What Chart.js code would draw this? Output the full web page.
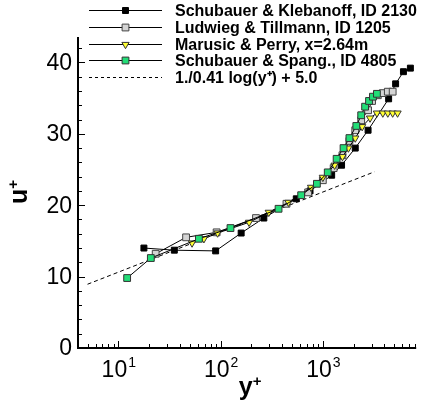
<!DOCTYPE html>
<html>
<head>
<meta charset="UTF-8">
<title>u+ vs y+</title>
<script src="https://cdn.jsdelivr.net/npm/chart.js"></script>
<style>
  html, body { margin: 0; padding: 0; background: #fff; }
</style>
</head>
<body>
<canvas id="chart" width="422" height="408"></canvas>
<script>
// Schubauer & Klebanoff, ID 2130
const skY = [17.8, 35.3, 89.5, 159, 265, 550, 750, 1220, 1525, 2075, 2770, 4400, 5150, 6140, 7180];
const skU = [14.0, 13.7, 13.6, 16.1, 18.2, 20.9, 22.0, 24.2, 25.6, 28.0, 30.5, 34.9, 37.0, 38.7, 39.2];
// Ludwieg & Tillmann, ID 1205
const ltY = [23.2, 46.0, 91.5, 222, 441, 718, 1000, 1276, 1555, 1820, 2075, 2372, 2770, 3030, 3450, 3860, 4320, 4820];
const ltU = [13.2, 15.5, 16.2, 18.2, 20.2, 21.8, 23.5, 25.2, 27.0, 29.0, 30.5, 31.9, 33.3, 34.6, 35.4, 35.7, 35.9, 35.9];
// Marusic & Perry, x=2.64m
const mpY = [52.6, 68.7, 93.5, 190, 296, 461, 767, 1000, 1304, 1555, 1778, 2075, 2425, 2895, 3380, 3860, 4320, 4820, 5380];
const mpU = [14.7, 15.3, 16.1, 17.6, 19.0, 20.4, 22.5, 23.9, 25.6, 26.8, 28.0, 29.4, 31.0, 32.2, 32.9, 32.9, 32.9, 32.9, 32.9];
// Schubauer & Spang., ID 4805
const ssY = [12.2, 20.8, 61.4, 125, 369, 614, 875, 1117, 1364, 1594, 1820, 2125, 2372, 2590, 2830, 3090, 3380];
const ssU = [9.8, 12.6, 15.3, 16.8, 19.5, 21.4, 23.0, 24.6, 26.5, 28.0, 29.4, 31.1, 32.6, 33.8, 34.6, 35.2, 35.6];
// log law 1/0.41 log(y+) + 5.0, end points
const logY = [5.0, 3200];
const logU = [8.93, 24.68];

const seriesNames = [
  "Schubauer & Klebanoff, ID 2130",
  "Ludwieg & Tillmann, ID 1205",
  "Marusic & Perry, x=2.64m",
  "Schubauer & Spang., ID 4805",
  "1./0.41 log(y\u207A) + 5.0"
];
const xTickValues = [10, 100, 1000];
const xTickExp = ["1", "2", "3"];
const yTickValues = [0, 10, 20, 30, 40];

function pts(xs, ys) {
  return xs.map((x, i) => ({ x: x, y: ys[i] }));
}

const FONT = "Arial, 'Liberation Sans', Helvetica, sans-serif";

const styles = [
  { fill: "#000000", stroke: "#000000", shape: "rect", r: 4.2 },
  { fill: "#d4d4d4", stroke: "#444444", shape: "rect", r: 4.8 },
  { fill: "#ffff33", stroke: "#333333", shape: "tri", r: 4.2 },
  { fill: "#22dd77", stroke: "#333333", shape: "rect", r: 4.8 }
];

function marker(ctx, s, x, y) {
  ctx.save();
  ctx.fillStyle = s.fill;
  ctx.strokeStyle = s.stroke;
  ctx.lineWidth = 1;
  ctx.beginPath();
  if (s.shape === "rect") {
    const h = s.r * Math.SQRT1_2;
    ctx.rect(x - h, y - h, 2 * h, 2 * h);
  } else {
    ctx.moveTo(x, y + s.r);
    ctx.lineTo(x - s.r * 0.866, y - s.r * 0.5);
    ctx.lineTo(x + s.r * 0.866, y - s.r * 0.5);
    ctx.closePath();
  }
  ctx.fill();
  ctx.stroke();
  ctx.restore();
}

const axesPlugin = {
  id: "axesPlugin",
  afterDraw(chart) {
    const ctx = chart.ctx;
    const a = chart.chartArea;
    const xs = chart.scales.x;
    const ys = chart.scales.y;
    ctx.save();
    ctx.strokeStyle = "#000";
    ctx.fillStyle = "#000";

    // axis lines
    ctx.lineWidth = 2;
    ctx.beginPath();
    ctx.moveTo(a.left, a.top);
    ctx.lineTo(a.left, a.bottom);
    ctx.lineTo(a.right, a.bottom);
    ctx.stroke();

    // y ticks
    ctx.lineWidth = 1;
    for (let v = 0; v <= 42; v += 2) {
      const py = Math.round(ys.getPixelForValue(v)) + 0.5;
      const len = v % 10 === 0 ? 7 : 4;
      ctx.beginPath();
      ctx.moveTo(a.left, py);
      ctx.lineTo(a.left + len, py);
      ctx.stroke();
    }
    // x ticks
    for (let e = 0; e <= 3; e++) {
      for (let m = 1; m <= 9; m++) {
        const v = m * Math.pow(10, e);
        if (v < xs.min || v > xs.max) continue;
        const px = Math.round(xs.getPixelForValue(v)) + 0.5;
        const len = m === 1 ? 7 : 4;
        ctx.beginPath();
        ctx.moveTo(px, a.bottom);
        ctx.lineTo(px, a.bottom - len);
        ctx.stroke();
      }
    }

    // y tick labels
    ctx.font = "23px " + FONT;
    ctx.textAlign = "right";
    ctx.textBaseline = "middle";
    yTickValues.forEach(v => {
      ctx.fillText(String(v), a.left - 6, ys.getPixelForValue(v) + 1);
    });

    // x tick labels with exponents
    ctx.textBaseline = "alphabetic";
    ctx.textAlign = "left";
    xTickValues.forEach((v, i) => {
      ctx.font = "23px " + FONT;
      const w1 = ctx.measureText("10").width;
      ctx.font = "14px " + FONT;
      const w2 = ctx.measureText(xTickExp[i]).width;
      const px = xs.getPixelForValue(v);
      const x0 = px - (w1 + w2) / 2;
      ctx.font = "23px " + FONT;
      ctx.fillText("10", x0, 377);
      ctx.font = "14px " + FONT;
      ctx.fillText(xTickExp[i], x0 + w1 + 1, 367);
    });

    // axis titles
    ctx.font = "bold 25px " + FONT;
    const wy = ctx.measureText("y").width;
    ctx.font = "bold 15px " + FONT;
    const wp = ctx.measureText("+").width;
    const cx = (a.left + a.right) / 2 + 3;
    ctx.font = "bold 25px " + FONT;
    ctx.fillText("y", cx - (wy + wp) / 2, 395);
    ctx.font = "bold 15px " + FONT;
    ctx.fillText("+", cx - (wy + wp) / 2 + wy, 386);

    ctx.save();
    ctx.translate(27, 192);
    ctx.rotate(-Math.PI / 2);
    ctx.font = "bold 25px " + FONT;
    const wu = ctx.measureText("u").width;
    ctx.fillText("u", -(wu + wp) / 2, 0);
    ctx.font = "bold 15px " + FONT;
    ctx.fillText("+", -(wu + wp) / 2 + wu, -9);
    ctx.restore();

    // legend
    const lx0 = 89, lx1 = 162, tx = 175;
    ctx.font = "bold 16px " + FONT;
    ctx.textBaseline = "middle";
    seriesNames.forEach((name, i) => {
      const y = Math.round(10 + i * 16.8) + 0.5;
      ctx.save();
      ctx.strokeStyle = "#000";
      ctx.lineWidth = 1;
      if (i === 4) ctx.setLineDash([3, 3]);
      ctx.beginPath();
      ctx.moveTo(lx0, y);
      ctx.lineTo(lx1, y);
      ctx.stroke();
      ctx.restore();
      if (i < 4) marker(ctx, styles[i], (lx0 + lx1) / 2, y);
      ctx.fillStyle = "#000";
      ctx.fillText(name, tx, y + 1);
    });
    ctx.restore();
  }
};

function ds(label, xsArr, ysArr, s, order) {
  return {
    label: label,
    data: pts(xsArr, ysArr),
    showLine: true,
    borderColor: "#000",
    borderWidth: 1,
    pointStyle: s.shape === "rect" ? "rect" : "triangle",
    pointRotation: s.shape === "rect" ? 0 : 180,
    pointRadius: s.r,
    pointBackgroundColor: s.fill,
    pointBorderColor: s.stroke,
    pointBorderWidth: 1,
    clip: false,
    order: order
  };
}

new Chart(document.getElementById("chart"), {
  type: "scatter",
  data: {
    datasets: [
      ds(seriesNames[0], skY, skU, styles[0], 3),
      ds(seriesNames[1], ltY, ltU, styles[1], 2),
      ds(seriesNames[2], mpY, mpU, styles[2], 1),
      ds(seriesNames[3], ssY, ssU, styles[3], 0),
      {
        label: seriesNames[4],
        data: pts(logY, logU),
        showLine: true,
        borderColor: "#000",
        borderWidth: 1,
        borderDash: [4, 3],
        pointRadius: 0,
        clip: false,
        order: 4
      }
    ]
  },
  options: {
    responsive: false,
    animation: false,
    layout: { padding: { left: 78, top: 37, right: 0, bottom: 60 } },
    plugins: { legend: { display: false }, tooltip: { enabled: false } },
    scales: {
      x: { type: "logarithmic", min: 4.035, max: 8185, display: false },
      y: { type: "linear", min: 0, max: 43.56, display: false }
    }
  },
  plugins: [axesPlugin]
});
</script>
</body>
</html>
